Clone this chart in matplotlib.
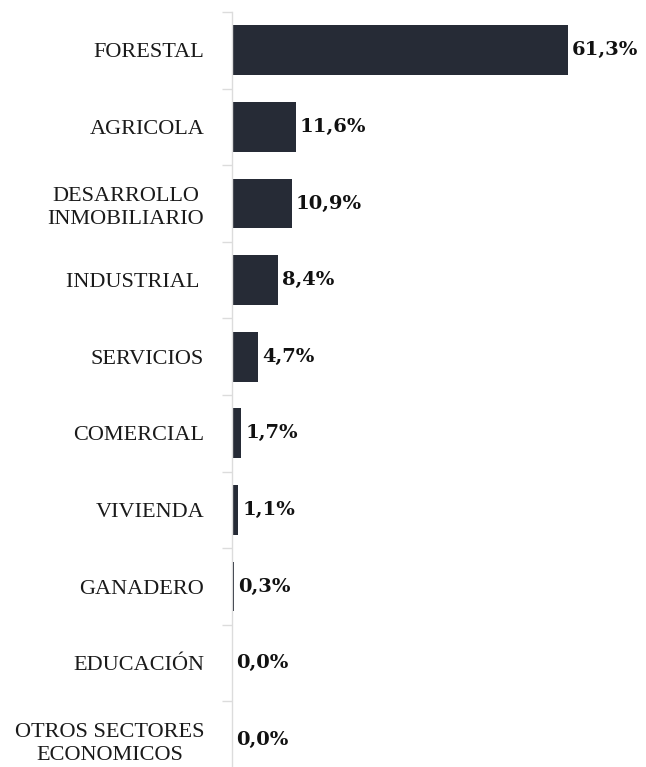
import matplotlib
matplotlib.use("Agg")
import matplotlib.pyplot as plt

categories = ["FORESTAL", "AGRICOLA", "DESARROLLO\nINMOBILIARIO", "INDUSTRIAL ",
              "SERVICIOS", "COMERCIAL", "VIVIENDA", "GANADERO", "EDUCACIÓN",
              "OTROS SECTORES\nECONOMICOS"]
values = [61.3, 11.6, 10.9, 8.4, 4.7, 1.7, 1.1, 0.3, 0.0, 0.0]
value_labels = ["61,3%", "11,6%", "10,9%", "8,4%", "4,7%", "1,7%", "1,1%", "0,3%", "0,0%", "0,0%"]

W, H = 646, 767
fig = plt.figure(figsize=(W / 100, H / 100), dpi=100)
ax = fig.add_axes([232 / W, (H - 778) / H, 383.6 / W, 766 / H])

n = len(categories)
ypos = list(range(n))
ax.barh(ypos, values, height=0.65, color="#262b36", zorder=2)
ax.set_ylim(n - 0.5, -0.5)
ax.set_xlim(0, 70)

for y, v, lab in zip(ypos, values, value_labels):
    ax.annotate(lab, (v, y), xytext=(3, 0), textcoords="offset points",
                ha="left", va="center", fontsize=14, fontweight="bold",
                family="DejaVu Serif", color="#111111")

ax.set_yticks(ypos)
ax.set_yticklabels(categories, family="Liberation Serif", fontsize=16,
                   color="#1a1a1a", ha="right", multialignment="center",
                   linespacing=1.3)
ax.tick_params(axis="y", length=0, pad=20)
# minor ticks at boundaries
ax.set_yticks([i + 0.5 for i in range(-1, n)], minor=True)
ax.tick_params(axis="y", which="minor", length=7, color="#dcdcdc", width=1)
ax.set_xticks([])

for s in ["top", "right", "bottom"]:
    ax.spines[s].set_visible(False)
ax.spines["left"].set_color("#dcdcdc")
ax.spines["left"].set_linewidth(1)

fig.savefig("out.png", dpi=100)
